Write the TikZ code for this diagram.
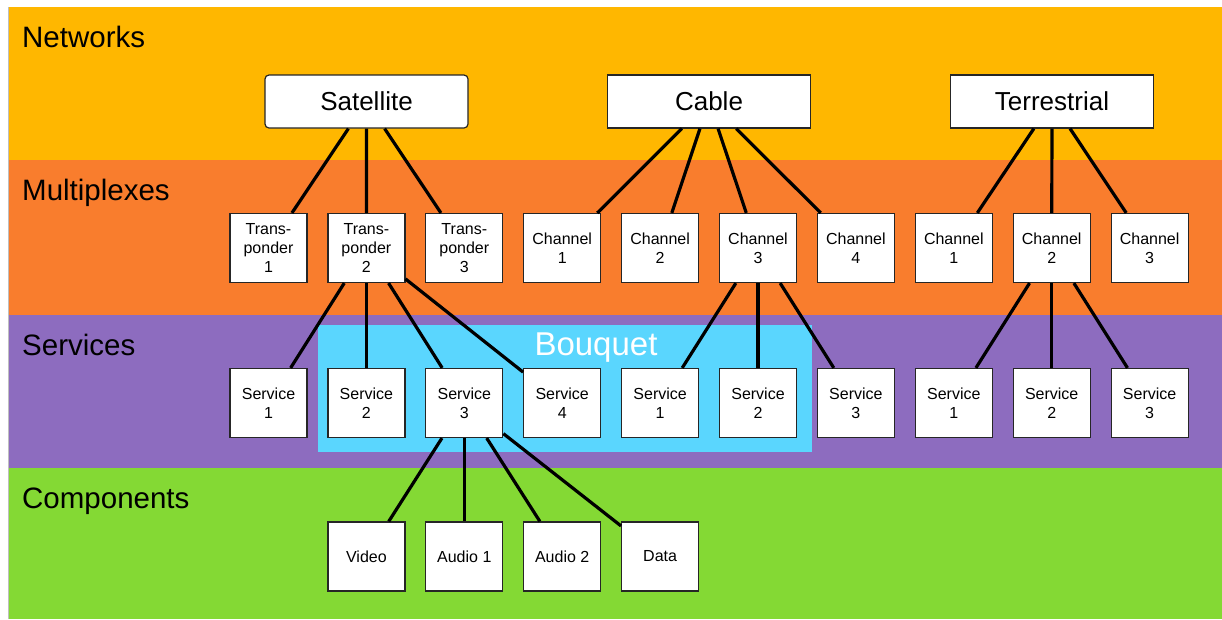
\documentclass[tikz,border=0pt]{standalone}
\usepackage{fontspec}
\setmainfont{Liberation Sans}
\definecolor{netc}{HTML}{FFB700}
\definecolor{muxc}{HTML}{F97D2D}
\definecolor{svcc}{HTML}{8D6CBF}
\definecolor{cmpc}{HTML}{84D934}
\definecolor{bqc}{HTML}{5AD6FE}
\tikzset{
  smallbox/.style={draw=black!85, line width=1.2pt, fill=white, minimum width=77pt, minimum height=69pt, inner sep=0pt, align=center, font=\fontsize{16}{19}\selectfont},
  bigbox/.style={draw=black!85, line width=1.2pt, fill=white, minimum width=203pt, minimum height=53pt, inner sep=0pt, font=\fontsize{26}{30}\selectfont},
  bandlabel/.style={anchor=base west, inner sep=0pt, font=\fontsize{29.5}{34}\selectfont},
  link/.style={line width=3.2pt, black}
}
\begin{document}
\begin{tikzpicture}[x=1pt, y=-1pt]
\useasboundingbox (0,0) rectangle (1222,619);
% bands
\fill[netc] (8,7) rectangle (1222,160);
\fill[muxc] (8,160) rectangle (1222,315);
\fill[svcc] (8,315) rectangle (1222,468);
\fill[cmpc] (8,468) rectangle (1222,619);
\draw[black!25, line width=0.6pt] (8,7) -- (8,619);
\fill[bqc] (318,325) rectangle (812,452);
\node[anchor=base, inner sep=0pt, text=white, font=\fontsize{33}{38}\selectfont] (bq) at (596,355) {Bouquet};
% band labels
\node[bandlabel] (lnet) at (22,47) {Networks};
\node[bandlabel] (lmux) at (22,200) {Multiplexes};
\node[bandlabel] (lsvc) at (22,355) {Services};
\node[bandlabel] (lcmp) at (22,508) {Components};
% networks
\node[bigbox, rounded corners=4pt] (sat) at (366.5,101.5) {Satellite};
\node[bigbox] (cab) at (709,101.5) {Cable};
\node[bigbox] (ter) at (1052,101.5) {Terrestrial};
% multiplexes
\node[smallbox] (t1) at (268.5,248) {Trans-\\ponder\\1};
\node[smallbox] (t2) at (366.4,248) {Trans-\\ponder\\2};
\node[smallbox] (t3) at (464.3,248) {Trans-\\ponder\\3};
\node[smallbox] (c1) at (562.2,248) {Channel\\1};
\node[smallbox] (c2) at (660.1,248) {Channel\\2};
\node[smallbox] (c3) at (758,248) {Channel\\3};
\node[smallbox] (c4) at (855.9,248) {Channel\\4};
\node[smallbox] (tc1) at (953.8,248) {Channel\\1};
\node[smallbox] (tc2) at (1051.7,248) {Channel\\2};
\node[smallbox] (tc3) at (1149.6,248) {Channel\\3};
% services
\node[smallbox] (s1) at (268.5,403) {Service\\1};
\node[smallbox] (s2) at (366.4,403) {Service\\2};
\node[smallbox] (s3) at (464.3,403) {Service\\3};
\node[smallbox] (s4) at (562.2,403) {Service\\4};
\node[smallbox] (cs1) at (660.1,403) {Service\\1};
\node[smallbox] (cs2) at (758,403) {Service\\2};
\node[smallbox] (cs3) at (855.9,403) {Service\\3};
\node[smallbox] (ts1) at (953.8,403) {Service\\1};
\node[smallbox] (ts2) at (1051.7,403) {Service\\2};
\node[smallbox] (ts3) at (1149.6,403) {Service\\3};
% components
\node[smallbox] (vid) at (366.4,556.5) {Video};
\node[smallbox] (au1) at (464.3,556.5) {Audio 1};
\node[smallbox] (au2) at (562.2,556.5) {Audio 2};
\node[smallbox] (dat) at (660.1,556.5) {Data};
% links
\foreach \a/\b in {sat/t1, sat/t2, sat/t3, cab/c1, cab/c2, cab/c3, cab/c4, ter/tc1, ter/tc2, ter/tc3,
  t2/s1, t2/s2, t2/s3, t2/s4, c3/cs1, c3/cs2, c3/cs3, tc2/ts1, tc2/ts2, tc2/ts3,
  s3/vid, s3/au1, s3/au2, s3/dat}
  \draw[link] (\a) -- (\b);
\end{tikzpicture}
\end{document}
